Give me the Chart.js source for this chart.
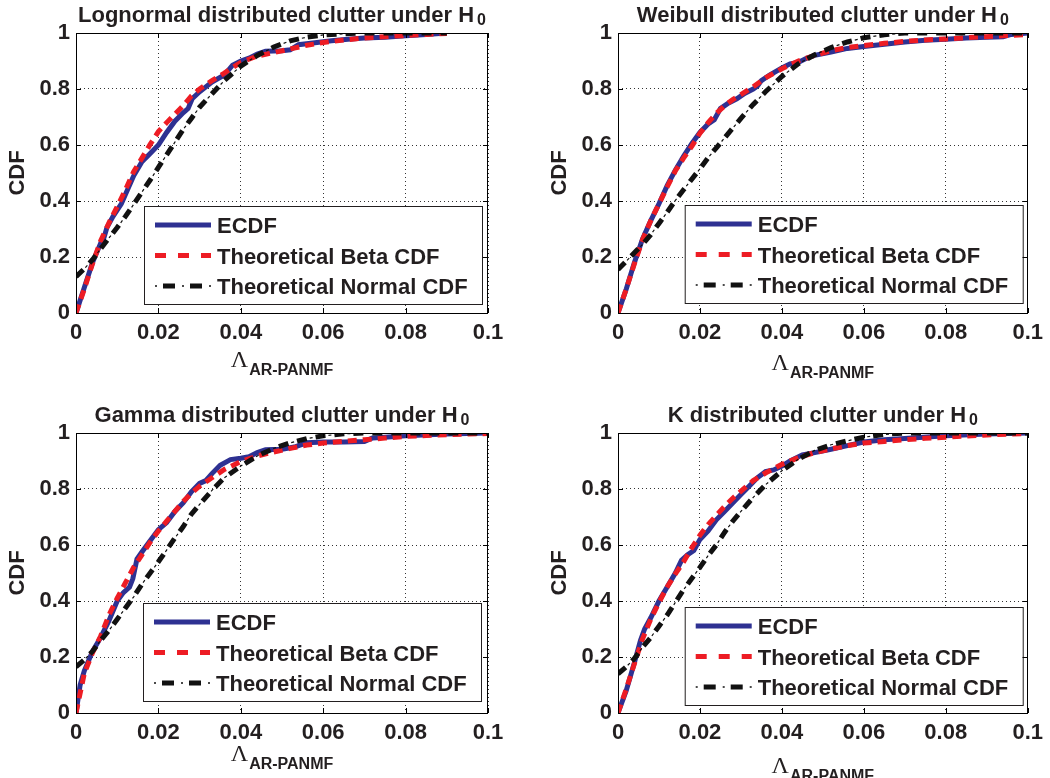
<!DOCTYPE html>
<html>
<head>
<meta charset="utf-8">
<script src="https://cdn.jsdelivr.net/npm/chart.js@4.4.1/dist/chart.umd.min.js"></script>
<style>
  body { margin: 0; background: #fff; }
  #wrap { position: relative; width: 1050px; height: 778px; }
  #wrap canvas { position: absolute; }
</style>
</head>
<body>
<div id="wrap">
  <canvas id="c1" width="525" height="389" style="left:0;top:0"></canvas>
  <canvas id="c2" width="525" height="389" style="left:525px;top:0"></canvas>
  <canvas id="c3" width="525" height="389" style="left:0;top:389px"></canvas>
  <canvas id="c4" width="525" height="389" style="left:525px;top:389px"></canvas>
</div>
<script>
// values

var panelNames = ['Lognormal', 'Weibull', 'Gamma', 'K'];
var seriesNames = ['ECDF', 'Theoretical Beta CDF', 'Theoretical Normal CDF'];
var xTicks = [0, 0.02, 0.04, 0.06, 0.08, 0.1];
var yTicks = [0, 0.2, 0.4, 0.6, 0.8, 1];

// x grid shared by the theoretical curves
var lambdaGrid = [0, 0.002, 0.004, 0.006, 0.008, 0.010, 0.012, 0.014, 0.016, 0.018, 0.020, 0.022, 0.024, 0.026, 0.028, 0.030,
                  0.033, 0.036, 0.040, 0.044, 0.048, 0.052, 0.056, 0.060, 0.065, 0.070, 0.075, 0.080, 0.085, 0.090, 0.095, 0.100];

// Lognormal
var lognEcdfX = [0, 0.002, 0.004, 0.006, 0.0068, 0.0075, 0.009, 0.011, 0.0125, 0.014, 0.016, 0.018, 0.020, 0.022, 0.024, 0.026,
                 0.0272, 0.0282, 0.030, 0.033, 0.036, 0.038, 0.040, 0.042, 0.044, 0.046, 0.050, 0.052, 0.054, 0.058, 0.062,
                 0.066, 0.070, 0.075, 0.080, 0.085, 0.090];
var lognEcdf = [0, 0.09, 0.18, 0.25, 0.27, 0.305, 0.345, 0.39, 0.44, 0.49, 0.54, 0.57, 0.6, 0.645, 0.685, 0.715, 0.73, 0.765,
                0.79, 0.825, 0.85, 0.885, 0.9, 0.91, 0.925, 0.935, 0.937, 0.94, 0.958, 0.965, 0.972, 0.978, 0.982, 0.985, 0.99,
                0.995, 1];
var lognBeta = [0, 0.085, 0.176, 0.258, 0.322, 0.38, 0.44, 0.505, 0.553, 0.602, 0.648, 0.68, 0.71, 0.74, 0.775, 0.80, 0.83,
                0.857, 0.895, 0.918, 0.93, 0.943, 0.956, 0.966, 0.975, 0.982, 0.987, 0.991, 0.995, 0.998];
var lognNormal = [0.13, 0.158, 0.19, 0.23, 0.268, 0.305, 0.345, 0.388, 0.432, 0.475, 0.52, 0.565, 0.61, 0.655, 0.695, 0.735,
                  0.783, 0.83, 0.882, 0.92, 0.95, 0.972, 0.985, 0.993, 0.997, 1, 1, 1, 1, 1];

// Weibull
var weibEcdfX = [0, 0.002, 0.004, 0.006, 0.008, 0.010, 0.012, 0.014, 0.016, 0.018, 0.020, 0.022, 0.0235, 0.025, 0.027, 0.029,
                 0.031, 0.033, 0.034, 0.035, 0.037, 0.040, 0.042, 0.044, 0.046, 0.048, 0.052, 0.056, 0.060, 0.065, 0.070,
                 0.075, 0.080, 0.085, 0.090, 0.094, 0.096, 0.100];
var weibEcdf = [0, 0.085, 0.18, 0.265, 0.33, 0.39, 0.455, 0.51, 0.56, 0.605, 0.645, 0.675, 0.69, 0.73, 0.75, 0.765, 0.785, 0.8,
                0.81, 0.83, 0.85, 0.875, 0.89, 0.895, 0.91, 0.92, 0.932, 0.945, 0.952, 0.96, 0.968, 0.974, 0.978, 0.982, 0.985,
                0.987, 0.995, 1];
var weibBeta = [0, 0.085, 0.176, 0.262, 0.33, 0.39, 0.45, 0.508, 0.553, 0.595, 0.642, 0.68, 0.713, 0.74, 0.762, 0.78, 0.808,
                0.84, 0.872, 0.9, 0.92, 0.937, 0.948, 0.955, 0.963, 0.97, 0.975, 0.979, 0.983, 0.987, 0.991, 0.995];
var weibNormal = [0.155, 0.185, 0.215, 0.245, 0.28, 0.32, 0.36, 0.402, 0.44, 0.478, 0.515, 0.555, 0.59, 0.625, 0.66, 0.695,
                  0.745, 0.79, 0.845, 0.89, 0.922, 0.948, 0.968, 0.983, 0.994, 1, 1, 1, 1, 1, 1, 1];

// Gamma
var gammaEcdfX = [0, 0.001, 0.002, 0.004, 0.006, 0.008, 0.010, 0.0115, 0.013, 0.0138, 0.0148, 0.016, 0.018, 0.020, 0.022,
                  0.024, 0.026, 0.028, 0.030, 0.0315, 0.033, 0.035, 0.0375, 0.040, 0.042, 0.044, 0.046, 0.050, 0.053, 0.056,
                  0.060, 0.065, 0.070, 0.072, 0.075, 0.080, 0.090, 0.100];
var gammaEcdf = [0, 0.1, 0.15, 0.22, 0.27, 0.33, 0.4, 0.43, 0.45, 0.48, 0.55, 0.575, 0.615, 0.655, 0.68, 0.72, 0.75, 0.79,
                 0.82, 0.83, 0.855, 0.885, 0.905, 0.91, 0.915, 0.93, 0.94, 0.942, 0.95, 0.965, 0.968, 0.968, 0.97, 0.982,
                 0.985, 0.99, 0.996, 1];
var gammaBeta = [0, 0.14, 0.215, 0.275, 0.35, 0.41, 0.465, 0.52, 0.565, 0.61, 0.65, 0.685, 0.72, 0.755, 0.785, 0.81, 0.84,
                 0.87, 0.898, 0.918, 0.932, 0.945, 0.957, 0.964, 0.97, 0.976, 0.982, 0.988, 0.991, 0.994, 0.996, 0.998];
var gammaNormal = [0.165, 0.19, 0.22, 0.26, 0.295, 0.335, 0.375, 0.415, 0.46, 0.5, 0.54, 0.582, 0.625, 0.665, 0.71, 0.745,
                   0.795, 0.84, 0.882, 0.918, 0.945, 0.965, 0.98, 0.99, 0.997, 1, 1, 1, 1, 1, 1, 1];

// K
var kEcdfX = [0, 0.002, 0.004, 0.0055, 0.0065, 0.008, 0.010, 0.012, 0.014, 0.0155, 0.017, 0.0185, 0.020, 0.022, 0.024, 0.026,
              0.028, 0.030, 0.032, 0.034, 0.036, 0.038, 0.040, 0.042, 0.045, 0.048, 0.052, 0.056, 0.060, 0.065, 0.070,
              0.080, 0.090, 0.100];
var kEcdf = [0, 0.08, 0.18, 0.26, 0.3, 0.34, 0.4, 0.45, 0.5, 0.545, 0.565, 0.58, 0.62, 0.65, 0.69, 0.72, 0.75, 0.78, 0.81,
             0.84, 0.862, 0.868, 0.882, 0.9, 0.922, 0.93, 0.942, 0.955, 0.968, 0.976, 0.98, 0.99, 0.996, 1];
var kBeta = [0, 0.085, 0.176, 0.265, 0.335, 0.395, 0.45, 0.497, 0.54, 0.59, 0.635, 0.673, 0.706, 0.738, 0.767, 0.792, 0.83,
             0.857, 0.888, 0.912, 0.93, 0.943, 0.955, 0.964, 0.97, 0.976, 0.981, 0.985, 0.989, 0.993, 0.996, 0.998];
var kNormal = [0.14, 0.165, 0.195, 0.235, 0.27, 0.31, 0.35, 0.395, 0.44, 0.48, 0.52, 0.562, 0.6, 0.645, 0.685, 0.72, 0.77,
               0.815, 0.865, 0.906, 0.938, 0.958, 0.972, 0.985, 0.995, 1, 1, 1, 1, 1, 1, 1];

var TEXT = '#231f20';
var SANS = '"Liberation Sans", Arial, Helvetica, sans-serif';
var BLUE = '#2e3192', RED = '#ed1c24', BLACK = '#111111';

function pairs(xs, ys) {
    return ys.map(function (y, i) { return { x: xs[i], y: y }; });
}

function strokeSample(ctx, x0, x1, y, color, width, dash, offset) {
    ctx.beginPath();
    ctx.setLineDash(dash);
    ctx.lineDashOffset = offset || 0;
    ctx.lineCap = 'butt';
    ctx.strokeStyle = color;
    ctx.lineWidth = width;
    ctx.moveTo(x0, y);
    ctx.lineTo(x1, y);
    ctx.stroke();
    ctx.setLineDash([]);
    ctx.lineDashOffset = 0;
}

// title, axis labels, legend box, axes box and inner tick marks
var panelDecor = {
    id: 'panelDecor',
    afterDatasetsDraw: function (chart, args, opts) {
        var ctx = chart.ctx, a = chart.chartArea;
        var sx = chart.scales.x, sy = chart.scales.y;
        ctx.save();

        // legend
        var bw = 338, bh = 98;
        var bx = a.right - opts.legendRight - bw, by = a.bottom - opts.legendBottom - bh;
        ctx.fillStyle = '#fff';
        ctx.fillRect(bx, by, bw, bh);
        ctx.strokeStyle = TEXT;
        ctx.lineWidth = 1;
        ctx.setLineDash([]);
        ctx.strokeRect(bx + 0.5, by + 0.5, bw, bh);
        var sx0 = bx + 11, sx1 = bx + 67;
        var rows = [by + 19, by + 49.5, by + 80];
        strokeSample(ctx, sx0, sx1, rows[0], BLUE, 5, []);
        strokeSample(ctx, sx0, sx1, rows[1], RED, 5, [11, 12]);
        strokeSample(ctx, sx0, sx1, rows[2], BLACK, 5, [12, 15], 19);
        strokeSample(ctx, sx0, sx1, rows[2], BLACK, 1.5, [2, 25]);
        ctx.fillStyle = TEXT;
        ctx.font = 'bold 22px ' + SANS;
        ctx.textAlign = 'left';
        ctx.textBaseline = 'alphabetic';
        for (var i = 0; i < 3; i++) {
            ctx.fillText(seriesNames[i], bx + 73, rows[i] + 8);
        }

        // box
        ctx.strokeStyle = '#000';
        ctx.lineWidth = 1;
        ctx.strokeRect(Math.round(a.left) + 0.5, Math.round(a.top) + 0.5,
                       Math.round(a.right - a.left) - 1, Math.round(a.bottom - a.top));
        ctx.beginPath();
        xTicks.forEach(function (v) {
            var px = Math.round(sx.getPixelForValue(v)) + 0.5;
            ctx.moveTo(px, a.bottom); ctx.lineTo(px, a.bottom - 5);
            ctx.moveTo(px, a.top); ctx.lineTo(px, a.top + 5);
        });
        yTicks.forEach(function (v) {
            var py = Math.round(sy.getPixelForValue(v)) + 0.5;
            ctx.moveTo(a.left, py); ctx.lineTo(a.left + 5, py);
            ctx.moveTo(a.right, py); ctx.lineTo(a.right - 5, py);
        });
        ctx.stroke();

        // title with subscript
        ctx.fillStyle = TEXT;
        ctx.textBaseline = 'alphabetic';
        var main = opts.title + ' distributed clutter under H';
        ctx.font = 'bold 16px ' + SANS;
        var subW = ctx.measureText('0').width;
        ctx.font = 'bold 22px ' + SANS;
        var mainW = ctx.measureText(main).width;
        var cx = (a.left + a.right) / 2;
        var tx = cx - (mainW + 3 + subW) / 2;
        var ty = a.top - 11;
        ctx.textAlign = 'left';
        ctx.fillText(main, tx, ty);
        ctx.font = 'bold 16px ' + SANS;
        ctx.fillText('0', tx + mainW + 3, ty + 3);

        // x label: Lambda with subscript
        ctx.font = '24px "Liberation Serif", "DejaVu Serif", serif';
        var lamW = ctx.measureText('\u039B').width;
        ctx.font = 'bold 16px ' + SANS;
        var subTxt = 'AR-PANMF';
        var sw = ctx.measureText(subTxt).width;
        var lx = cx - (lamW + 1 + sw) / 2;
        var ly = a.bottom + opts.xlabelGap;
        ctx.font = '24px "Liberation Serif", "DejaVu Serif", serif';
        ctx.fillText('\u039B', lx, ly);
        ctx.font = 'bold 16px ' + SANS;
        ctx.fillText(subTxt, lx + lamW + 1, ly + 8);

        // y label
        ctx.save();
        ctx.translate(a.left - 58, (a.top + a.bottom) / 2);
        ctx.rotate(-Math.PI / 2);
        ctx.font = 'bold 22px ' + SANS;
        ctx.textAlign = 'center';
        ctx.textBaseline = 'middle';
        ctx.fillText('CDF', 0, 0);
        ctx.restore();

        ctx.restore();
    }
};

function makePanel(canvasId, title, ecdfX, ecdf, beta, normal, lay) {
    var ctx = document.getElementById(canvasId).getContext('2d');
    return new Chart(ctx, {
        type: 'scatter',
        data: {
            datasets: [{
                label: seriesNames[0],
                data: pairs(ecdfX, ecdf),
                borderColor: BLUE,
                borderWidth: 5,
                order: 4
            }, {
                label: seriesNames[1],
                data: pairs(lambdaGrid, beta),
                borderColor: RED,
                borderWidth: 5,
                borderDash: [9, 6],
                order: 3
            }, {
                label: seriesNames[2],
                data: pairs(lambdaGrid, normal),
                borderColor: BLACK,
                borderWidth: 5,
                borderDash: [10, 9],
                order: 2
            }, {
                // thin dots of the dash-dot normal line
                label: seriesNames[2],
                data: pairs(lambdaGrid, normal),
                borderColor: BLACK,
                borderWidth: 1.2,
                borderDash: [3, 16],
                borderDashOffset: 6,
                order: 1
            }]
        },
        options: {
            responsive: false,
            animation: false,
            showLine: true,
            elements: { point: { radius: 0, hoverRadius: 0 }, line: { tension: 0, borderCapStyle: 'butt' } },
            layout: { autoPadding: false, padding: { top: lay.top, right: lay.right, left: 0, bottom: 0 } },
            scales: {
                x: {
                    type: 'linear',
                    min: 0,
                    max: 0.1,
                    afterBuildTicks: function (scale) { scale.ticks = xTicks.map(function (v) { return { value: v }; }); },
                    afterFit: function (scale) { scale.height = lay.xAxis; },
                    grid: { color: '#333', lineWidth: 1, drawTicks: false },
                    border: { display: false, dash: [1, 3] },
                    ticks: {
                        padding: 7,
                        maxRotation: 0,
                        color: TEXT,
                        font: { family: SANS, size: 22, weight: 'bold' },
                        callback: function (v) { return String(Number(v.toFixed(2))); }
                    }
                },
                y: {
                    type: 'linear',
                    min: 0,
                    max: 1,
                    afterBuildTicks: function (scale) { scale.ticks = yTicks.map(function (v) { return { value: v }; }); },
                    afterFit: function (scale) { scale.width = lay.yAxis; },
                    grid: { color: '#333', lineWidth: 1, drawTicks: false },
                    border: { display: false, dash: [1, 3] },
                    ticks: {
                        padding: 6,
                        color: TEXT,
                        font: { family: SANS, size: 22, weight: 'bold' },
                        callback: function (v) { return String(Number(v.toFixed(1))); }
                    }
                }
            },
            plugins: {
                legend: { display: false },
                tooltip: { enabled: false },
                panelDecor: { title: title, xlabelGap: lay.xlabelGap, legendRight: lay.legendRight, legendBottom: lay.legendBottom }
            }
        },
        plugins: [panelDecor]
    });
}

document.addEventListener('DOMContentLoaded', function () {
    makePanel('c1', panelNames[0], lognEcdfX, lognEcdf, lognBeta, lognNormal,
              { top: 33, right: 37, yAxis: 76, xAxis: 76, xlabelGap: 54, legendRight: 6, legendBottom: 9 });
    makePanel('c2', panelNames[1], weibEcdfX, weibEcdf, weibBeta, weibNormal,
              { top: 33, right: 20, yAxis: 93, xAxis: 76, xlabelGap: 57, legendRight: 5, legendBottom: 10 });
    makePanel('c3', panelNames[2], gammaEcdfX, gammaEcdf, gammaBeta, gammaNormal,
              { top: 44, right: 37, yAxis: 76, xAxis: 65, xlabelGap: 48, legendRight: 7, legendBottom: 12 });
    makePanel('c4', panelNames[3], kEcdfX, kEcdf, kBeta, kNormal,
              { top: 44, right: 20, yAxis: 93, xAxis: 65, xlabelGap: 60, legendRight: 5, legendBottom: 8 });
});
</script>
</body>
</html>
